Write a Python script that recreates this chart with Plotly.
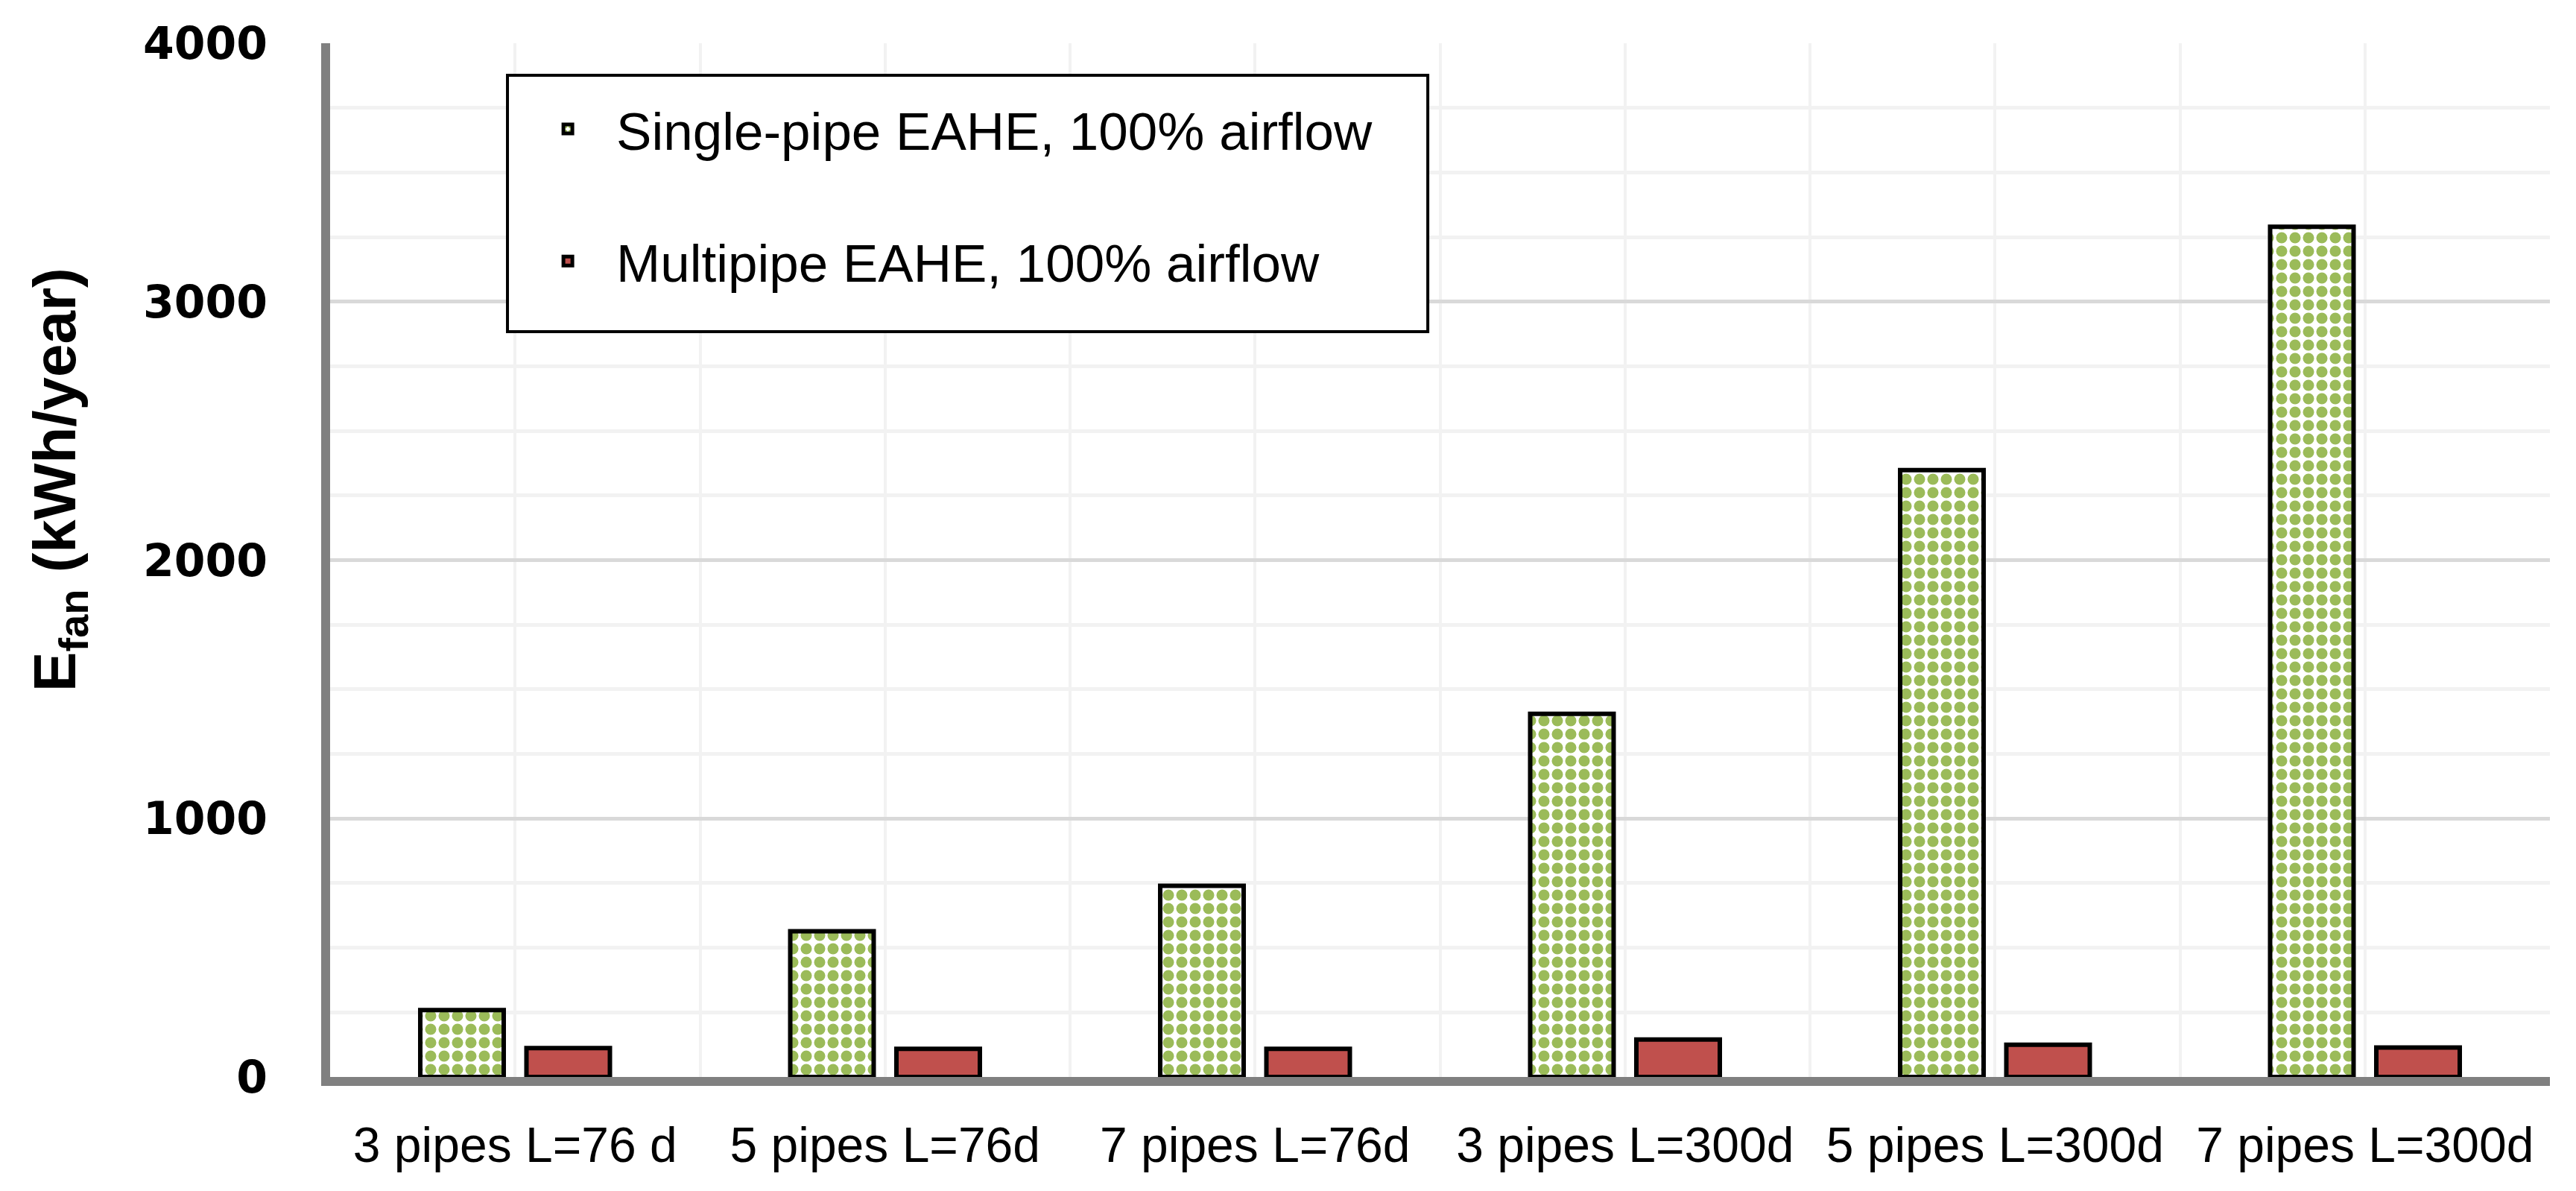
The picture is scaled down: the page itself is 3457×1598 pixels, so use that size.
import plotly.graph_objects as go

# categories and values
categories = ["3 pipes L=76 d", "5 pipes L=76d", "7 pipes L=76d",
              "3 pipes L=300d", "5 pipes L=300d", "7 pipes L=300d"]
single_pipe = [259, 564, 740, 1405, 2348, 3290]
multipipe = [112, 109, 109, 145, 125, 114]
y_ticks = [0, 1000, 2000, 3000, 4000]

x_pos = list(range(len(categories)))

fig = go.Figure()

fig.add_trace(go.Bar(
    x=x_pos, y=single_pipe,
    name="Single-pipe EAHE, 100% airflow",
    legendgroup="single",
    marker=dict(
        color="white",
        line=dict(color="black", width=6),
        pattern=dict(shape=".", fgcolor="#9BBB59", bgcolor="white",
                     size=18, solidity=0.55, fillmode="replace"),
    ),
))

fig.add_trace(go.Bar(
    x=x_pos, y=multipipe,
    name="Multipipe EAHE, 100% airflow",
    legendgroup="multi",
    marker=dict(color="#C0504D", line=dict(color="black", width=6)),
))

# y axis title, placed like the original (above the plot centre)
fig.add_annotation(
    text="<b>E<sub>fan</sub> (kWh/year)</b>",
    xref="paper", yref="paper", x=-0.122, y=0.578,
    textangle=-90, showarrow=False,
    xanchor="center", yanchor="middle",
    font=dict(family="Liberation Sans, Arial", size=80, color="black"),
)

# frame around the legend (the legend itself has no padding option)
fig.add_shape(
    type="rect", xref="paper", yref="paper",
    x0=0.0799, x1=0.4945, y0=0.721, y1=0.969,
    line=dict(color="black", width=4), fillcolor="white", layer="above",
)

fig.update_layout(
    width=3457, height=1598, autosize=False,
    margin=dict(l=435, r=43, t=50, b=161),
    paper_bgcolor="white", plot_bgcolor="white",
    barmode="group", bargap=0.426, bargroupgap=0.214,
    legend=dict(
        x=0.0853, y=0.955, xanchor="left", yanchor="top",
        bgcolor="rgba(0,0,0,0)", borderwidth=0,
        font=dict(family="Liberation Sans, Arial", size=71, color="black"),
        traceorder="grouped", tracegroupgap=82, itemwidth=120,
    ),
    xaxis=dict(
        range=[-0.5, 5.5], tickmode="array", tickvals=x_pos, ticktext=categories,
        showgrid=True, gridcolor="#F2F2F2", gridwidth=4,
        minor=dict(tickmode="linear", tick0=-0.5, dtick=1, showgrid=True,
                   gridcolor="#F2F2F2", gridwidth=4),
        showline=True, linecolor="#808080", linewidth=12,
        zeroline=False, ticks="", ticklabelstandoff=23,
        tickfont=dict(family="Liberation Sans, Arial", size=66, color="black"),
    ),
    yaxis=dict(
        range=[0, 4000], tickmode="array", tickvals=y_ticks,
        showgrid=True, gridcolor="#D9D9D9", gridwidth=5,
        minor=dict(tickmode="linear", tick0=0, dtick=250, showgrid=True,
                   gridcolor="#F2F2F2", gridwidth=5),
        showline=True, linecolor="#808080", linewidth=12,
        zeroline=False, ticks="", ticklabelstandoff=60,
        tickfont=dict(family="DejaVu Sans", size=60, color="black", weight="bold"),
    ),
)

fig.write_html("out.html", config={"displayModeBar": False})
